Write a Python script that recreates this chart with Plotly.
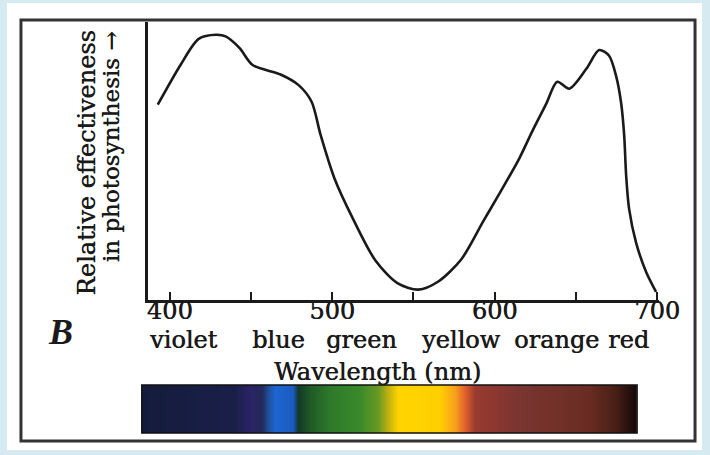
import plotly.graph_objects as go

# ---- data ----
wavelength = [392.6, 406.8, 417.8, 428.5, 434.4, 443.0, 451.0, 468.2, 479.3, 487.3,
              492.8, 501.4, 512.5, 526.6, 540.1, 553.0, 565.3, 579.5, 593.0,
              602.8, 615.1, 623.1, 631.7, 638.5, 645.9, 656.3, 664.3, 670.4,
              674.7, 677.8, 679.7, 680.9, 682.7, 687.0, 693.2, 699.3]
effectiveness = [0.718, 0.866, 0.960, 0.975, 0.969, 0.926, 0.864, 0.829, 0.790, 0.729,
                 0.608, 0.447, 0.302, 0.145, 0.062, 0.038, 0.068, 0.150, 0.290,
                 0.390, 0.520, 0.620, 0.721, 0.802, 0.777, 0.849, 0.919, 0.898,
                 0.824, 0.725, 0.605, 0.458, 0.336, 0.211, 0.103, 0.030]

tick_values = [400, 500, 600, 700]
minor_tick_values = [450, 550, 650]

color_names = ["violet", "blue", "green", "yellow", "orange", "red"]
color_name_wavelength = [408.6, 467.0, 518.0, 579.5, 637.9, 682.1]

spectrum_stops = [0.0, 0.188, 0.218, 0.242, 0.254, 0.268, 0.304, 0.315, 0.339,
                  0.379, 0.440, 0.476, 0.496, 0.516, 0.601, 0.631, 0.653, 0.673,
                  0.762, 0.903, 0.954, 1.0]
spectrum_colors = ["#141c3c", "#1a1f4a", "#2b2366", "#232a5a", "#1f4f9a", "#1e66d2",
                   "#1a5cc0", "#123a2a", "#1f5a25", "#2d7a2a", "#3a8a2a", "#6a9a22",
                   "#c0b010", "#ffd400", "#ffcf00", "#f8a020", "#e0602a", "#9a3a30",
                   "#7a3530", "#6a2c22", "#4a2016", "#120808"]

W, H = 710, 455
def px(x):
    return x / W
def py(y):
    return (H - y) / H

SERIF = "DejaVu Serif"
INK = "#1a1a1a"
HEAVY = "0.5px 0px 0px #1a1a1a"

def tfont(size):
    return dict(family=SERIF, size=size, color=INK, shadow=HEAVY)

fig = go.Figure()

fig.add_trace(go.Scatter(
    x=wavelength, y=effectiveness, mode="lines",
    line=dict(color=INK, width=2.6, shape="spline", smoothing=0.8),
    hoverinfo="skip", showlegend=False, xaxis="x", yaxis="y"))

fig.add_trace(go.Heatmap(
    x=spectrum_stops, y=[0, 1], z=[spectrum_stops, spectrum_stops],
    colorscale=[[s, c] for s, c in zip(spectrum_stops, spectrum_colors)],
    zmin=0, zmax=1, zsmooth="best", showscale=False, hoverinfo="skip",
    xaxis="x2", yaxis="y2"))

annotations = []
for name, wl in zip(color_names, color_name_wavelength):
    annotations.append(dict(x=wl, xref="x", y=py(340), yref="paper", text=name,
                            showarrow=False, xanchor="center", yanchor="middle",
                            font=tfont(24)))
annotations += [
    dict(x=px(378), y=py(372), xref="paper", yref="paper", text="Wavelength (nm)",
         showarrow=False, xanchor="center", yanchor="middle", font=tfont(24)),
    dict(x=px(61), y=py(332), xref="paper", yref="paper", text="<b><i>B</i></b>",
         showarrow=False, xanchor="center", yanchor="middle",
         font=dict(family="Liberation Serif", size=36, color=INK)),
    dict(x=px(87), y=py(28), xref="paper", yref="paper", text="Relative effectiveness",
         textangle=-90, showarrow=False, xanchor="center", yanchor="top",
         font=tfont(24)),
    dict(x=px(111), y=py(29), xref="paper", yref="paper", text="in photosynthesis \u2192",
         textangle=-90, showarrow=False, xanchor="center", yanchor="top",
         font=tfont(23)),
]

shapes = [
    dict(type="rect", xref="paper", yref="paper", x0=px(7), x1=px(703), y0=py(450), y1=py(3),
         fillcolor="white", line=dict(width=0), layer="below"),
    dict(type="rect", xref="paper", yref="paper", x0=px(21), x1=px(696), y0=py(441), y1=py(20),
         fillcolor="rgba(0,0,0,0)", line=dict(color="#333333", width=3), layer="above"),
    dict(type="rect", xref="paper", yref="paper", x0=px(142), x1=px(638), y0=py(433), y1=py(385),
         fillcolor="rgba(0,0,0,0)", line=dict(color="#111111", width=1.5), layer="above"),
]

x_lo = 400 + (148 - 170) / 1.627
x_hi = 400 + (660 - 170) / 1.627

fig.update_layout(
    width=730, height=H, margin=dict(l=0, r=0, t=0, b=0),
    paper_bgcolor="#d6eaf2", plot_bgcolor="rgba(0,0,0,0)",
    showlegend=False,
    xaxis=dict(domain=[px(148), px(660)], range=[x_lo, x_hi], anchor="y",
               showline=True, linecolor=INK, linewidth=2.5,
               showgrid=False, zeroline=False,
               tickmode="array", tickvals=tick_values, ticks="inside", ticklen=8,
               tickwidth=2, tickcolor=INK, ticklabelstandoff=-13,
               minor=dict(tickmode="array", tickvals=minor_tick_values, ticks="inside",
                          ticklen=8, tickwidth=2, tickcolor=INK),
               tickfont=tfont(24)),
    yaxis=dict(domain=[py(300), py(22)], range=[0, (300 - 22) / 272], anchor="x",
               showline=True, linecolor=INK, linewidth=2.5,
               showgrid=False, zeroline=False, showticklabels=False, ticks=""),
    xaxis2=dict(domain=[px(142), px(638)], range=[0, 1], anchor="y2", visible=False),
    yaxis2=dict(domain=[py(433), py(385)], range=[0, 1], anchor="x2", visible=False),
    annotations=annotations, shapes=shapes,
)

fig.write_html(
    "out.html",
    config={"displayModeBar": False},
    post_script=("document.body.style.margin='0px';"
                 "document.body.style.overflow='hidden';"
                 "document.body.style.background='#d6eaf2';"),
)
